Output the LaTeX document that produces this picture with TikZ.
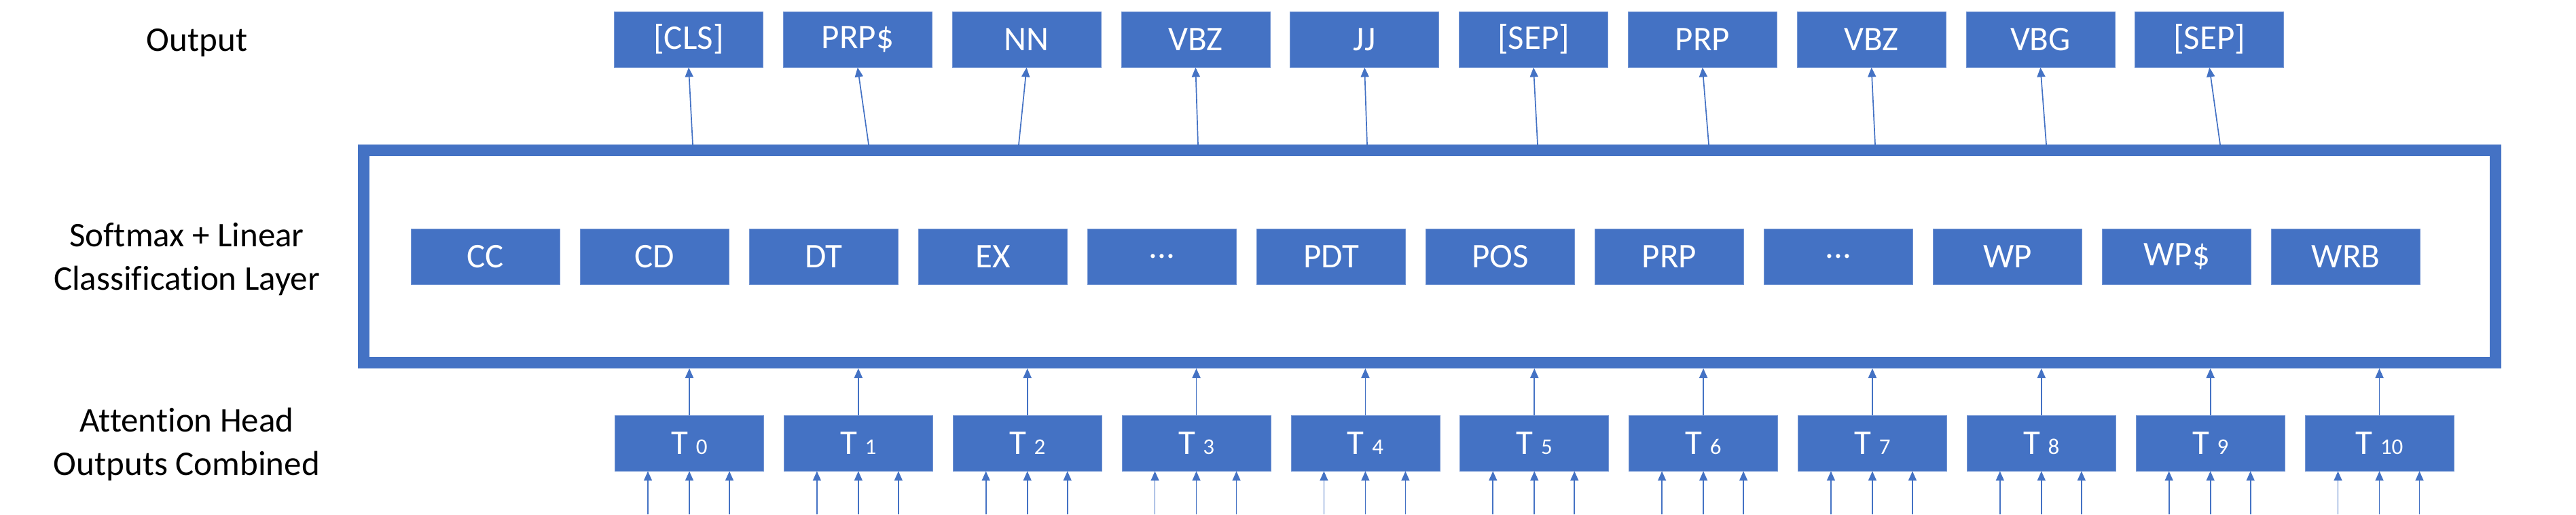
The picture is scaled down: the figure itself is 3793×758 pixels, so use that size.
\documentclass[tikz,border=0pt]{standalone}
\usepackage{fontspec}
\setmainfont{Carlito}[Ligatures=NoCommon]
\usetikzlibrary{arrows.meta}
\definecolor{ofblue}{HTML}{4472C4}
\newcommand{\threedots}{.\kern0pt.\kern0pt.}
\begin{document}
\begin{tikzpicture}[x=1pt,y=-1pt,
  tag/.style={rectangle, fill=ofblue, draw=ofblue!75!white, line width=0.8pt,
    minimum width=219pt, minimum height=82pt, inner sep=0pt, text=white,
    font=\fontsize{51}{61}\selectfont},
  arr/.style={draw=ofblue, line width=1.7pt, -{Triangle[length=14pt,width=12pt]}},
  lbl/.style={font=\fontsize{51}{64}\selectfont, align=center, text=black, inner sep=0pt}]
\useasboundingbox (0,0) rectangle (3793,758);

% classification frame
\node[draw=ofblue, line width=17pt, minimum width=3139pt, minimum height=313pt,
      inner sep=0pt] (frame) at (2105,378) {};

% left labels (base anchor = baseline of the last line)
\node[lbl, anchor=base] (lout) at (290,75) {Output};
\node[lbl, anchor=base] (lsoft) at (275,427) {Softmax + Linear\\Classification Layer};
\node[lbl, anchor=base] (latt) at (275,700) {Attention Head\\Outputs Combined};

% output tags
\foreach \t [count=\i from 0] in {{[CLS]},{PRP\$},{NN},{VBZ},{JJ},{[SEP]},{PRP},{VBZ},{VBG},{[SEP]}} {
  \node[tag] (o\i) at ({1014+248.8*\i},58) {\t};
}

% classes inside the frame
\foreach \t [count=\i from 0] in {{CC},{CD},{DT},{EX},{\threedots},{PDT},{POS},{PRP},{\threedots},{WP},{WP\$},{WRB}} {
  \node[tag] (c\i) at ({715+249*\i},378) {\t};
}

% frame -> output arrows
\foreach \x [count=\i from 0] in {1020,1279,1500,1764,2013,2264,2516,2761,3013,3269} {
  \coordinate (s\i) at (\x,213);
  \draw[arr] (s\i) -- (o\i.south);
}

% attention head outputs
\foreach \n [count=\i from 0] in {0,1,2,3,4,5,6,7,8,9,10} {
  \node[tag] (t\i) at ({1015+248.85*\i},653) {T {\fontsize{33}{40}\selectfont\n}};
  \draw[arr] (t\i.north) -- (t\i.north |- frame.south);
  \foreach \o [count=\k] in {-61,0,59} {
    \coordinate (in-\i-\k) at ({1015+248.85*\i+\o},758);
    \draw[arr] (in-\i-\k) -- (in-\i-\k |- t\i.south);
  }
}
\end{tikzpicture}
\end{document}
